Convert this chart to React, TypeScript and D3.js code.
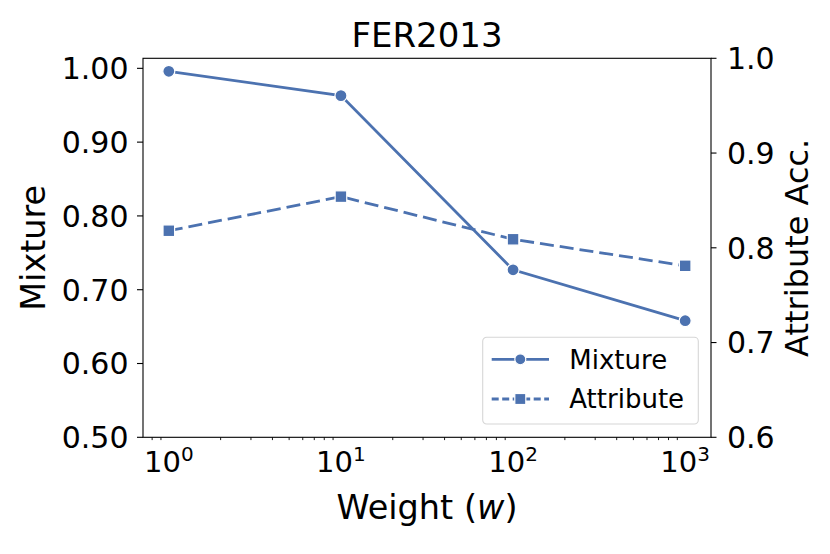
import { useEffect, useRef } from "react"
import * as d3 from "d3"

// Chart data
const weights = [1, 10, 100, 1000]
const mixture = [0.996, 0.963, 0.727, 0.658]
const attribute = [0.818, 0.854, 0.809, 0.781]
const leftTicks = [0.5, 0.6, 0.7, 0.8, 0.9, 1.0]
const rightTicks = [0.6, 0.7, 0.8, 0.9, 1.0]
const xMajor = [1, 10, 100, 1000]
const xMinor = [0.8, 0.9, 2, 3, 4, 5, 6, 7, 8, 9, 20, 30, 40, 50, 60, 70, 80, 90, 200, 300, 400, 500, 600, 700, 800, 900]

const COLOR = "#4c72b0"
const FONT = "DejaVu Sans, sans-serif"

export default function App() {
  const svgRef = useRef<SVGSVGElement>(null)

  useEffect(() => {
    if (!svgRef.current) return
    d3.select(svgRef.current).selectAll("*").remove()

    const W = 830
    const H = 554
    const margin = { top: 58.3, right: 830 - 711, bottom: 554 - 437.3, left: 143 }
    const width = W - margin.left - margin.right
    const height = H - margin.top - margin.bottom

    const svg = d3.select(svgRef.current).attr("width", W).attr("height", H)
    svg.append("rect").attr("width", W).attr("height", H).attr("fill", "#fff")

    const g = svg.append("g").attr("transform", `translate(${margin.left},${margin.top})`)

    const x = d3
      .scaleLog()
      .domain([Math.pow(10, -0.15), Math.pow(10, 3.15)])
      .range([0, width])
    const yL = d3.scaleLinear().domain([0.5, 1.0136]).range([height, 0])
    const yR = d3.scaleLinear().domain([0.6, 1.0]).range([height, 0])

    // Lines
    const lineL = d3
      .line<number>()
      .x((_, i) => x(weights[i]))
      .y((d) => yL(d))
    const lineR = d3
      .line<number>()
      .x((_, i) => x(weights[i]))
      .y((d) => yR(d))

    g.append("path")
      .datum(mixture)
      .attr("fill", "none")
      .attr("stroke", COLOR)
      .attr("stroke-width", 2.8)
      .attr("d", lineL)

    g.selectAll(".dotm")
      .data(mixture)
      .enter()
      .append("circle")
      .attr("cx", (_, i) => x(weights[i]))
      .attr("cy", (d) => yL(d))
      .attr("r", 6)
      .attr("fill", COLOR)
      .attr("stroke", "#fff")
      .attr("stroke-width", 1.2)

    g.append("path")
      .datum(attribute)
      .attr("fill", "none")
      .attr("stroke", COLOR)
      .attr("stroke-width", 2.8)
      .attr("stroke-dasharray", "14,6")
      .attr("d", lineR)

    g.selectAll(".dota")
      .data(attribute)
      .enter()
      .append("rect")
      .attr("x", (_, i) => x(weights[i]) - 5.8)
      .attr("y", (d) => yR(d) - 5.8)
      .attr("width", 11.6)
      .attr("height", 11.6)
      .attr("fill", COLOR)
      .attr("stroke", "#fff")
      .attr("stroke-width", 1.2)

    // Frame
    g.append("rect")
      .attr("width", width)
      .attr("height", height)
      .attr("fill", "none")
      .attr("stroke", "#000")
      .attr("stroke-width", 1.1)

    // Left axis
    leftTicks.forEach((t) => {
      g.append("line")
        .attr("x1", -6)
        .attr("x2", 0)
        .attr("y1", yL(t))
        .attr("y2", yL(t))
        .attr("stroke", "#000")
        .attr("stroke-width", 1.1)
      g.append("text")
        .attr("x", -14.5)
        .attr("y", yL(t))
        .attr("dy", "0.36em")
        .attr("text-anchor", "end")
        .attr("font-family", FONT)
        .attr("font-size", 30)
        .text(d3.format(".2f")(t))
    })

    // Right axis
    rightTicks.forEach((t) => {
      g.append("line")
        .attr("x1", width)
        .attr("x2", width + 5.5)
        .attr("y1", yR(t))
        .attr("y2", yR(t))
        .attr("stroke", "#000")
        .attr("stroke-width", 1.1)
      g.append("text")
        .attr("x", width + 16)
        .attr("y", yR(t))
        .attr("dy", "0.36em")
        .attr("text-anchor", "start")
        .attr("font-family", FONT)
        .attr("font-size", 30)
        .text(d3.format(".1f")(t))
    })

    // X axis: minor ticks only, labels as 10^k
    xMinor.forEach((t) => {
      g.append("line")
        .attr("x1", x(t))
        .attr("x2", x(t))
        .attr("y1", height)
        .attr("y2", height + 2.8)
        .attr("stroke", "#000")
        .attr("stroke-width", 0.9)
    })
    xMajor.forEach((t) => {
      const txt = g
        .append("text")
        .attr("x", x(t))
        .attr("y", height + 34.5)
        .attr("text-anchor", "middle")
        .attr("font-family", FONT)
        .attr("font-size", 29)
      txt.append("tspan").text("10")
      txt
        .append("tspan")
        .attr("font-size", 20)
        .attr("dy", -11)
        .text(String(Math.round(Math.log10(t))))
    })

    // Axis labels and title
    const xl = svg
      .append("text")
      .attr("x", margin.left + width / 2)
      .attr("y", 519)
      .attr("text-anchor", "middle")
      .attr("font-family", FONT)
      .attr("font-size", 33.5)
    xl.append("tspan").text("Weight (")
    xl.append("tspan").attr("font-style", "italic").text("w")
    xl.append("tspan").text(")")

    svg
      .append("text")
      .attr("transform", `translate(45,${margin.top + height / 2}) rotate(-90)`)
      .attr("text-anchor", "middle")
      .attr("font-family", FONT)
      .attr("font-size", 33.5)
      .text("Mixture")

    svg
      .append("text")
      .attr("transform", `translate(808,${margin.top + height / 2}) rotate(-90)`)
      .attr("text-anchor", "middle")
      .attr("font-family", FONT)
      .attr("font-size", 32)
      .text("Attribute Acc.")

    svg
      .append("text")
      .attr("x", margin.left + width / 2)
      .attr("y", 47)
      .attr("text-anchor", "middle")
      .attr("font-family", FONT)
      .attr("font-size", 34)
      .text("FER2013")

    // Legend
    const lg = svg.append("g").attr("transform", "translate(482.7,337.3)")
    lg.append("rect")
      .attr("width", 215.6)
      .attr("height", 86.7)
      .attr("rx", 4)
      .attr("fill", "#fff")
      .attr("fill-opacity", 0.8)
      .attr("stroke", "#d6d6d6")
      .attr("stroke-width", 1.1)

    const rows = [
      { label: "Mixture", dash: null as string | null, marker: "circle", y: 22 },
      { label: "Attribute", dash: "7,3.5", marker: "square", y: 61.7 },
    ]
    rows.forEach((r) => {
      const ln = lg
        .append("line")
        .attr("x1", 9)
        .attr("x2", 66.3)
        .attr("y1", r.y)
        .attr("y2", r.y)
        .attr("stroke", COLOR)
        .attr("stroke-width", 2.8)
      if (r.dash) ln.attr("stroke-dasharray", r.dash)
      if (r.marker === "circle") {
        lg.append("circle")
          .attr("cx", 37.6)
          .attr("cy", r.y)
          .attr("r", 5.5)
          .attr("fill", COLOR)
          .attr("stroke", "#fff")
          .attr("stroke-width", 1.2)
      } else {
        lg.append("rect")
          .attr("x", 37.6 - 5.5)
          .attr("y", r.y - 5.5)
          .attr("width", 11)
          .attr("height", 11)
          .attr("fill", COLOR)
          .attr("stroke", "#fff")
          .attr("stroke-width", 1.2)
      }
      lg.append("text")
        .attr("x", 86.6)
        .attr("y", r.y)
        .attr("dy", "0.36em")
        .attr("font-family", FONT)
        .attr("font-size", 26)
        .text(r.label)
    })
  }, [])

  return (
    <div style={{ position: "absolute", left: 0, top: 0 }}>
      <svg ref={svgRef} style={{ display: "block" }}></svg>
    </div>
  )
}
